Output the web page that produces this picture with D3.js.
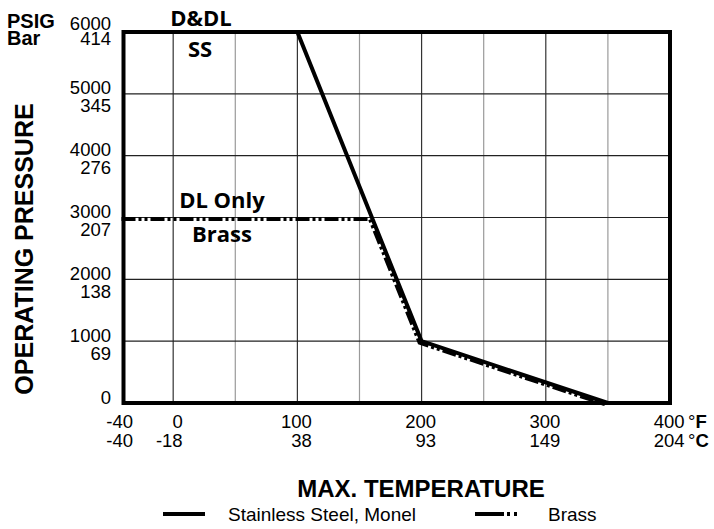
<!DOCTYPE html>
<html>
<head>
<meta charset="utf-8">
<script src="https://cdn.jsdelivr.net/npm/d3@7.9.0/dist/d3.min.js"></script>
<style>
  body { margin: 0; background: #fff; }
  svg { display: block; font-family: "Liberation Sans", Arial, sans-serif; }
</style>
</head>
<body>
<svg width="714" height="529"></svg>
<script>
// tick values and their second-row labels
const tempF = [-40, 0, 100, 200, 300, 400];
const tempC = [-40, -18, 38, 93, 149, 204];
const gridMajorF = [0, 100, 200, 300];
const gridMinorF = [50, 150, 250, 350];
const psig = [0, 1000, 2000, 3000, 4000, 5000, 6000];
const bar = [0, 69, 138, 207, 276, 345, 414];

// curves: [°F, psig]
const stainless = [[-40, 6000], [100, 6000], [200, 1000], [350, 0]];
const brass = [[-40, 3000], [160, 3000], [200, 1000], [350, 0]];

const svg = d3.select('svg');

const x = d3.scaleLinear().domain([-40, 400]).range([123.5, 670]);
const y = d3.scaleLinear().domain([0, 6000]).range([403, 32]);

// grid
svg.append('g').selectAll('line').data(gridMinorF).join('line')
  .attr('x1', d => x(d)).attr('x2', d => x(d))
  .attr('y1', y(0)).attr('y2', y(6000))
  .attr('stroke', '#9a9a9a').attr('stroke-width', 1.2);

svg.append('g').selectAll('line').data(gridMajorF).join('line')
  .attr('x1', d => x(d)).attr('x2', d => x(d))
  .attr('y1', y(0)).attr('y2', y(6000))
  .attr('stroke', '#333').attr('stroke-width', 1.2);

svg.append('g').selectAll('line').data(psig.slice(1, -1)).join('line')
  .attr('x1', x(-40)).attr('x2', x(400))
  .attr('y1', d => y(d)).attr('y2', d => y(d))
  .attr('stroke', '#222').attr('stroke-width', 1.2);

// curves
const line = d3.line().x(d => x(d[0])).y(d => y(d[1]));

svg.append('path')
  .attr('d', line(brass))
  .attr('transform', 'translate(-2,1.5)')
  .attr('fill', 'none').attr('stroke', '#000').attr('stroke-width', 4)
  .attr('stroke-dasharray', '14,3,3,3,3,3');

svg.append('path')
  .attr('d', line(stainless))
  .attr('fill', 'none').attr('stroke', '#000').attr('stroke-width', 4)
  .attr('stroke-linejoin', 'round');

// frame
svg.append('rect')
  .attr('x', x(-40)).attr('y', y(6000))
  .attr('width', x(400) - x(-40)).attr('height', y(0) - y(6000))
  .attr('fill', 'none').attr('stroke', '#000').attr('stroke-width', 4);

// y tick labels (psig over bar)
const yl = svg.append('g').attr('font-size', 18.5).attr('text-anchor', 'end');
psig.forEach((v, i) => {
  const top = v === 6000 ? y(v) - 2 : y(v) + 0.5;
  const bottom = v === 6000 ? y(v) + 13 : y(v) + 18.5;
  yl.append('text').attr('x', 111).attr('y', top).text(v);
  if (v > 0) yl.append('text').attr('x', 111).attr('y', bottom).text(bar[i]);
});

svg.append('text').attr('x', 7).attr('y', 28)
  .attr('font-size', 20).attr('font-weight', 'bold').text('PSIG');
svg.append('text').attr('x', 7).attr('y', 45)
  .attr('font-size', 20).attr('font-weight', 'bold').text('Bar');

// x tick labels (°F over °C)
const xl = svg.append('g').attr('font-size', 18.5).attr('text-anchor', 'end');
tempF.forEach((v, i) => {
  const xx = x(v) + (v < 100 ? 9.5 : 14.5);
  xl.append('text').attr('x', xx).attr('y', 428).text(v);
  xl.append('text').attr('x', xx).attr('y', 447).text(tempC[i]);
});
const unitF = svg.append('text').attr('x', 688).attr('y', 428).attr('font-size', 18.5);
unitF.append('tspan').text('°');
unitF.append('tspan').attr('font-weight', 'bold').text('F');
const unitC = svg.append('text').attr('x', 688).attr('y', 447).attr('font-size', 18.5);
unitC.append('tspan').text('°');
unitC.append('tspan').attr('font-weight', 'bold').text('C');

// axis titles
svg.append('text')
  .attr('transform', 'translate(33,249) rotate(-90)')
  .attr('text-anchor', 'middle').attr('font-size', 25).attr('font-weight', 'bold')
  .text('OPERATING PRESSURE');

svg.append('text')
  .attr('x', 421).attr('y', 497)
  .attr('text-anchor', 'middle').attr('font-size', 24).attr('font-weight', 'bold')
  .text('MAX. TEMPERATURE');

// annotations
const ann = svg.append('g')
  .attr('font-family', '"Open Sans", "Noto Sans", sans-serif')
  .attr('font-weight', 'bold').attr('font-size', 22).attr('text-anchor', 'middle');
ann.append('text').attr('x', 201).attr('y', 26).text('D&DL');
ann.append('text').attr('x', 200).attr('y', 57).text('SS');
ann.append('text').attr('x', 222).attr('y', 208).text('DL Only');
ann.append('text').attr('x', 222).attr('y', 242).text('Brass');

// legend
svg.append('line').attr('x1', 163).attr('x2', 205).attr('y1', 514).attr('y2', 514)
  .attr('stroke', '#000').attr('stroke-width', 4);
svg.append('text').attr('x', 228).attr('y', 521).attr('font-size', 19)
  .text('Stainless Steel, Monel');
svg.append('line').attr('x1', 475).attr('x2', 520).attr('y1', 514).attr('y2', 514)
  .attr('stroke', '#000').attr('stroke-width', 4)
  .attr('stroke-dasharray', '29,3,3,4,3,20');
svg.append('text').attr('x', 548).attr('y', 521).attr('font-size', 19)
  .text('Brass');
</script>
</body>
</html>
